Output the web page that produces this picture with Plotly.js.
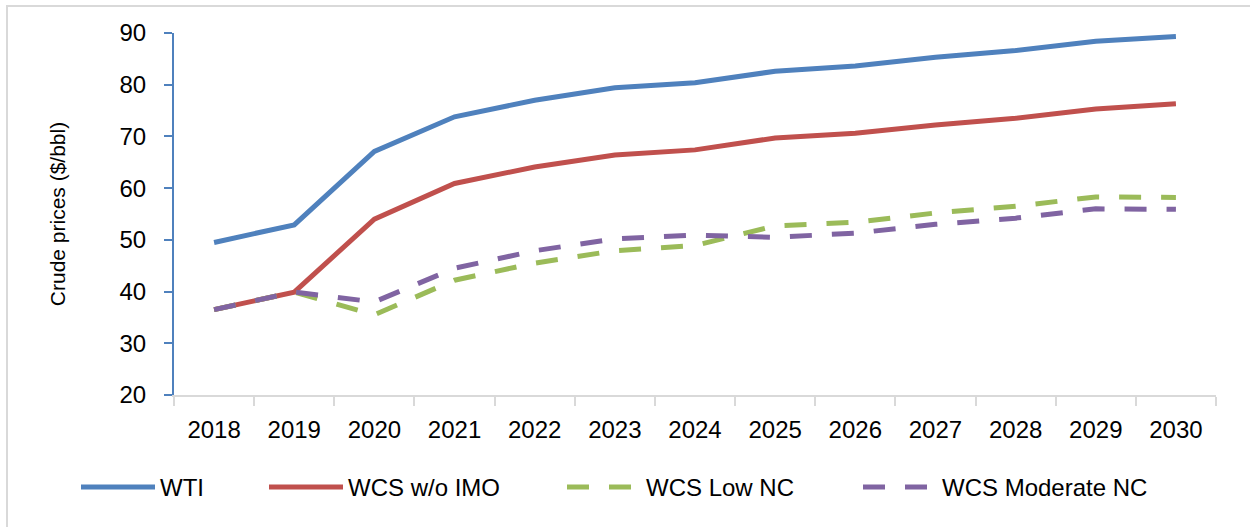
<!DOCTYPE html>
<html>
<head>
<meta charset="utf-8">
<script src="https://cdn.plot.ly/plotly-3.0.1.min.js"></script>
<style>
  html, body { margin: 0; padding: 0; background: #fff; }
  #frame { position: absolute; left: 6px; top: 5px; width: 1260px; height: 540px; border-left: 2px solid #D9D9D9; border-top: 2px solid #D9D9D9; pointer-events: none; }
  #chart { position: absolute; left: 0; top: 0; width: 1250px; height: 527px; }
</style>
</head>
<body>
<div id="chart"></div>
<div id="frame"></div>
<script>
const years = ['2018','2019','2020','2021','2022','2023','2024','2025','2026','2027','2028','2029','2030'];
const wti =        [49.5, 52.9, 67.1, 73.8, 77.0, 79.4, 80.4, 82.6, 83.6, 85.3, 86.6, 88.4, 89.3];
const wcsNoIMO =   [36.5, 39.9, 54.0, 60.9, 64.1, 66.4, 67.4, 69.7, 70.6, 72.2, 73.5, 75.3, 76.3];
const wcsLowNC =   [36.5, 39.9, 35.5, 42.2, 45.5, 47.9, 48.9, 52.7, 53.4, 55.2, 56.5, 58.3, 58.2];
const wcsModNC =   [36.5, 39.9, 38.0, 44.5, 47.9, 50.2, 50.9, 50.5, 51.3, 53.0, 54.2, 56.0, 55.9];
const seriesNames = ['WTI', 'WCS w/o IMO', 'WCS Low NC', 'WCS Moderate NC'];
const yTicks = [20, 30, 40, 50, 60, 70, 80, 90];

const FONT = '"Liberation Sans Narrow", "Arial Narrow", "Liberation Sans", Arial, sans-serif';
const colors = ['#4F81BD', '#C0504D', '#9BBB59', '#8064A2'];
const dashes = ['solid', 'solid', '22px,20px', '22px,20px'];
const allSeries = [wti, wcsNoIMO, wcsLowNC, wcsModNC];
const legendIds = ['legend', 'legend2', 'legend3', 'legend4'];

const traces = allSeries.map((vals, i) => ({
  type: 'scatter',
  mode: 'lines',
  x: years,
  y: vals,
  name: seriesNames[i],
  legend: legendIds[i],
  line: { color: colors[i], width: 5, dash: dashes[i] },
  hoverinfo: 'x+y+name'
}));

// plot area spans 174..1216 px horizontally
const legendX = [84, 272, 570, 866].map(px => (px - 174 - 8) / 1042);
function mkLegend(x) {
  return {
    x: x, xanchor: 'left', y: -0.255, yanchor: 'middle',
    orientation: 'h', itemwidth: 74,
    font: { family: FONT, size: 24, color: '#000' },
    bgcolor: 'rgba(0,0,0,0)', borderwidth: 0
  };
}

const layout = {
  width: 1250, height: 527,
  margin: { l: 174, r: 34, t: 33, b: 132 },
  paper_bgcolor: 'rgba(0,0,0,0)',
  plot_bgcolor: '#fff',
  font: { family: FONT, size: 24, color: '#000' },
  showlegend: true,
  legend: mkLegend(legendX[0]),
  legend2: mkLegend(legendX[1]),
  legend3: mkLegend(legendX[2]),
  legend4: mkLegend(legendX[3]),
  xaxis: {
    type: 'category',
    range: [-0.5, 12.5],
    tickson: 'boundaries',
    ticks: 'outside', ticklen: 9, tickwidth: 2, tickcolor: '#D9D9D9',
    showline: true, linecolor: '#D9D9D9', linewidth: 2,
    showgrid: false, zeroline: false,
    tickfont: { family: FONT, size: 24, color: '#000' },
    ticklabelstandoff: 12
  },
  yaxis: {
    range: [20, 90],
    tickvals: yTicks,
    ticktext: yTicks.map(String),
    ticks: 'outside', ticklen: 8, tickwidth: 2, tickcolor: '#4F81BD',
    showline: true, linecolor: '#4F81BD', linewidth: 2,
    showgrid: false, zeroline: false,
    tickfont: { family: FONT, size: 24, color: '#000' },
    ticklabelstandoff: 13,
    title: { text: 'Crude prices ($/bbl)', font: { family: FONT, size: 21, color: '#000' }, standoff: 48 }
  }
};

Plotly.newPlot('chart', traces, layout, { displayModeBar: false, staticPlot: true });
</script>
</body>
</html>
